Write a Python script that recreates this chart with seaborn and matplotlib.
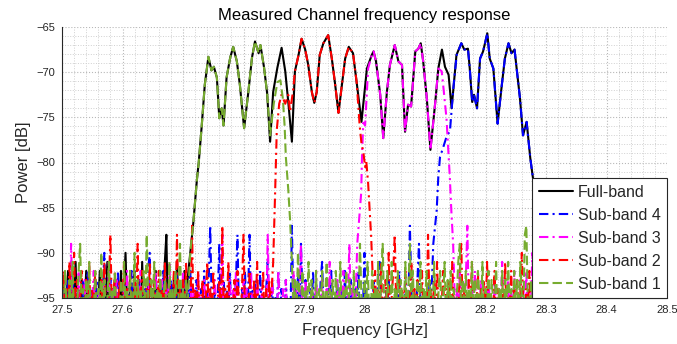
import numpy as np
import pandas as pd
import matplotlib
matplotlib.use("Agg")
import matplotlib.pyplot as plt
from matplotlib.ticker import MultipleLocator, FixedLocator
import seaborn as sns

# ---------------- data ----------------
NOISE_STEP = 0.0025  # GHz between visible noise samples
TAIL_STEP = 0.01     # GHz between samples hidden behind the legend (28.30-28.50)
TAIL_START = 28.30

# Full-band in-band trace
fb_freq = [27.712, 27.714, 27.717, 27.723, 27.726, 27.731, 27.736, 27.742, 27.747, 27.751,
           27.756, 27.760, 27.764, 27.767, 27.772, 27.778, 27.783, 27.789, 27.794, 27.801,
           27.808, 27.814, 27.819, 27.825, 27.828, 27.834, 27.839, 27.844, 27.849, 27.856,
           27.863, 27.869, 27.874, 27.880, 27.885, 27.891, 27.896, 27.902, 27.907, 27.913,
           27.917, 27.921, 27.926, 27.932, 27.940, 27.946, 27.951, 27.957, 27.962, 27.968,
           27.974, 27.981, 27.987, 27.995, 28.004, 28.012, 28.015, 28.019, 28.026, 28.031,
           28.037, 28.042, 28.050, 28.056, 28.062, 28.067, 28.072, 28.077, 28.084, 28.089,
           28.093, 28.097, 28.103, 28.109, 28.117, 28.122, 28.128, 28.133, 28.139, 28.144,
           28.147, 28.152, 28.160, 28.165, 28.171, 28.174, 28.178, 28.181, 28.186, 28.191,
           28.196, 28.203, 28.207, 28.213, 28.220, 28.227, 28.232, 28.238, 28.243, 28.248,
           28.252, 28.257, 28.262, 28.268, 28.274, 28.279, 28.284, 28.289]
fb_power = [-90.0, -88.6, -86.7, -81.9, -80.0, -75.9, -71.4, -68.3, -69.8, -69.4,
            -70.6, -75.1, -74.0, -75.9, -70.6, -68.4, -67.2, -68.8, -71.4, -76.2,
            -72.2, -68.4, -66.6, -67.9, -67.0, -69.5, -72.3, -77.7, -72.2, -69.5,
            -67.3, -69.9, -73.3, -77.7, -69.9, -68.1, -66.3, -67.5, -69.2, -72.2,
            -73.4, -72.2, -68.1, -66.8, -65.9, -68.5, -71.1, -74.5, -71.8, -68.5,
            -67.2, -67.9, -71.1, -75.5, -69.6, -68.1, -67.7, -68.8, -72.5, -77.3,
            -72.2, -69.2, -67.0, -68.8, -69.2, -76.6, -73.6, -73.8, -67.7, -67.4,
            -66.8, -68.8, -72.9, -78.6, -73.3, -69.6, -67.5, -69.4, -70.3, -74.0,
            -71.8, -68.1, -66.8, -67.5, -67.4, -69.6, -73.3, -72.5, -74.0, -68.5,
            -67.7, -65.7, -68.5, -69.6, -75.7, -71.4, -68.5, -66.8, -67.9, -67.5,
            -69.9, -72.9, -77.0, -75.5, -79.5, -82.0, -86.0, -90.0]

# Sub-band edges (where they leave the full-band trace)
sb1_right_freq = [27.844, 27.850, 27.856, 27.861, 27.865, 27.868, 27.870, 27.874, 27.877]
sb1_right_power = [-77.0, -73.5, -71.1, -70.9, -72.9, -76.0, -79.4, -83.0, -86.4]

sb2_left_freq = [27.849, 27.852, 27.855, 27.859, 27.863, 27.869, 27.874, 27.877, 27.882]
sb2_left_power = [-91.1, -84.0, -76.4, -73.5, -72.5, -73.5, -72.5, -74.4, -72.0]
sb2_right_freq = [27.992, 27.995, 27.998, 28.001, 28.003, 28.006, 28.011]
sb2_right_power = [-75.9, -77.9, -78.8, -80.5, -79.9, -82.3, -88.2]

sb3_left_freq = [27.988, 27.9945, 27.996, 27.998, 28.001, 28.006]
sb3_left_power = [-89.0, -83.4, -79.0, -75.6, -75.9, -69.6]
sb3_right_freq = [28.1276, 28.130, 28.1355, 28.138, 28.141, 28.1435, 28.1465]
sb3_right_power = [-69.9, -71.4, -75.1, -78.1, -81.6, -85.3, -89.0]

sb4_left_freq = [28.1137, 28.1193, 28.122, 28.1248, 28.1302, 28.1358, 28.1413, 28.1468, 28.1524]
sb4_left_power = [-89.0, -85.3, -81.6, -79.4, -78.3, -77.1, -76.5, -71.8, -68.1]

# Frequency range of the full-band trace that each sub-band shares
sb1_shared = (27.712, 27.839)
sb2_shared = (27.885, 27.987)
sb3_shared = (28.012, 28.122)
sb4_shared = (28.160, 28.289)

# ---- noise floor samples (dB) ----
fb_noise_start = 27.500
fb_noise = [-97, -93, -98, -95, -92, -97, -99, -94, -96, -91, -98, -95, -97, -93, -99, -96, -92, -98, -94, -97,
            -95, -99, -93, -97, -96, -92, -98, -94, -99, -95, -91, -97, -98, -94, -96, -93, -99, -95, -97, -92,
            -98, -94, -90, -96, -99, -93, -97, -95, -92, -98, -96, -94, -99, -91, -97, -95, -98, -93, -96, -99,
            -94, -97, -92, -98, -95, -93, -99, -96, -91, -88, -97, -94, -98, -95, -93, -99, -91, -96, -98, -94,
            -97, -92, -95, -93]
fb_tail = [-96, -93, -98, -94, -97, -92, -99, -95, -96, -93, -98, -94, -97, -91, -99, -95, -96, -93, -98, -94, -97]

sb4_noise_start = 27.500
sb4_noise = [-97, -94, -98, -95, -93, -99, -96, -92, -97, -95, -98, -94, -96, -99, -93, -97, -95, -92, -98, -96,
             -94, -99, -95, -93, -97, -96, -98, -94, -90, -97, -99, -95, -93, -98, -96, -94, -99, -92, -97, -95,
             -98, -93, -96, -99, -94, -97, -92, -98, -95, -96, -99, -93, -97, -95, -98, -94, -96, -92, -90, -97,
             -95, -98, -93, -96, -99, -94, -97, -92, -98, -95, -96, -99, -93, -97, -94, -98, -92, -96, -99, -95,
             -93, -97, -98, -94, -96, -92, -99, -95, -97, -93, -98, -96, -94, -99, -92, -97, -95, -93, -87, -96,
             -98, -94, -97, -95, -89, -98, -96, -93, -99, -94, -97, -92, -98, -95, -96, -93, -88, -97, -99, -94,
             -96, -92, -98, -95, -88, -97, -94, -99, -93, -96, -98, -92, -97, -95, -99, -94, -91, -98, -96, -93,
             -99, -95, -97, -92, -98, -94, -96, -99, -93, -97, -95, -98, -87, -96, -94, -99, -92, -97, -89, -95,
             -98, -93, -96, -99, -94, -97, -92, -98, -95, -96, -99, -93, -91, -97, -95, -98, -94, -96, -92, -99,
             -95, -97, -93, -98, -96, -94, -99, -92, -97, -95, -98, -93, -96, -99, -94, -97, -92, -98, -95, -96,
             -90, -98, -94, -97, -95, -99, -93, -96, -98, -92, -91, -97, -95, -99, -94, -96, -93, -98, -97, -95,
             -99, -94, -96, -92, -98, -95, -97, -93, -99, -96, -87, -94, -98, -95, -97, -93, -89, -96, -99, -94,
             -97, -95, -98, -93, -96]
sb4_tail = [-95, -98, -93, -97, -94, -99, -92, -96, -98, -93, -97, -95, -99, -92, -96, -94, -98, -93, -97, -95, -96]

sb3_noise_left_start = 27.500
sb3_noise_left = [-96, -98, -93, -97, -95, -99, -89, -96, -98, -94, -97, -92, -99, -95, -97, -93, -98, -96, -94, -99,
                  -95, -92, -97, -98, -94, -96, -99, -93, -97, -95, -98, -91, -96, -99, -94, -97, -93, -98, -95, -96,
                  -99, -94, -97, -92, -98, -95, -96, -99, -93, -97, -94, -98, -92, -96, -99, -95, -97, -93, -98, -94,
                  -96, -99, -92, -97, -95, -98, -93, -96, -99, -94, -97, -91, -98, -95, -96, -93, -99, -97, -94, -98,
                  -92, -96, -99, -95, -97, -93, -98, -94, -96, -99, -92, -97, -95, -98, -93, -96, -99, -94, -97, -95,
                  -98, -93, -96, -99, -94, -97, -88, -98, -95, -96, -99, -93, -97, -94, -98, -92, -96, -99, -95, -97,
                  -93, -98, -94, -96, -99, -92, -97, -95, -98, -93, -96, -99, -94, -97, -95, -98, -88, -96, -99, -93,
                  -97, -95, -98, -92, -96, -99, -94, -97, -93, -98, -95, -96, -99, -92, -97, -94, -98, -95, -89, -96,
                  -99, -93, -97, -95, -98, -94, -96, -99, -92, -97, -95, -98, -93, -96, -99, -94, -97, -91, -98, -95,
                  -96, -99, -93, -97, -94, -98, -92, -96, -99, -95, -89, -97, -94, -98, -96]
sb3_noise_right_start = 28.150
sb3_noise_right = [-97, -94, -98, -92, -96, -99, -95, -93, -87, -97, -99, -94, -96, -92, -98, -95, -97, -93, -99, -96,
                   -94, -98, -92, -97, -95, -99, -93, -96, -98, -94, -97, -91, -99, -95, -96, -93, -98, -94, -97, -92,
                   -99, -95, -96, -93, -98, -94, -97, -92, -99, -95, -96, -90, -98, -94, -97, -95]
sb3_tail = [-97, -94, -99, -92, -96, -98, -93, -97, -95, -99, -91, -96, -94, -98, -92, -97, -95, -99, -93, -96, -98]

sb2_noise_left_start = 27.500
sb2_noise_left = [-96, -92, -98, -94, -97, -91, -99, -95, -90, -97, -93, -98, -95, -92, -99, -96, -93, -97, -91, -98,
                  -94, -96, -92, -99, -95, -97, -93, -98, -91, -96, -99, -94, -88, -97, -95, -92, -98, -96, -93, -99,
                  -95, -91, -97, -94, -98, -92, -96, -99, -93, -97, -89, -98, -95, -92, -96, -99, -94, -97, -91, -98,
                  -95, -93, -99, -96, -92, -97, -94, -98, -91, -96, -99, -93, -97, -95, -92, -98, -88, -96, -94, -99,
                  -93, -97, -91, -98, -95, -96, -87, -99, -94, -97, -92, -98, -95, -93, -99, -96, -91, -97, -94, -98,
                  -92, -96, -99, -95, -93, -97, -87, -98, -94, -96, -91, -99, -95, -97, -93, -98, -92, -96, -99, -94,
                  -88, -97, -95, -98, -92, -96, -99, -93, -97, -91, -98, -95, -96, -92, -99, -94, -97, -93, -96]
sb2_noise_right_start = 28.015
sb2_noise_right = [-95, -92, -98, -94, -97, -91, -99, -96, -93, -97, -90, -98, -95, -92, -88, -96, -99, -93, -97, -94,
                   -98, -92, -96, -99, -95, -91, -97, -94, -98, -93, -96, -99, -92, -97, -95, -98, -88, -96, -94, -99,
                   -93, -97, -91, -98, -95, -96, -92, -99, -94, -97, -93, -98, -91, -96, -99, -95, -97, -92, -89, -98,
                   -94, -96, -99, -93, -97, -91, -98, -95, -96, -92, -99, -94, -97, -93, -98, -91, -96, -99, -95, -97,
                   -92, -98, -94, -96, -99, -93, -97, -91, -98, -95, -96, -92, -99, -94, -97, -93, -98, -95, -90, -96,
                   -99, -94, -97, -92, -98, -95, -96, -93, -99, -97]
sb2_tail = [-93, -97, -91, -98, -95, -96, -92, -99, -94, -97, -93, -98, -91, -96, -99, -94, -97, -92, -98, -95, -96]

sb1_noise_left_start = 27.500
sb1_noise_left = [-94, -98, -92, -96, -99, -93, -97, -91, -98, -95, -96, -92, -89, -97, -94, -99, -93, -96, -91, -98,
                  -95, -97, -92, -99, -94, -96, -90, -98, -93, -97, -95, -91, -99, -94, -96, -92, -98, -95, -97, -93,
                  -99, -91, -96, -94, -98, -92, -97, -95, -90, -99, -93, -96, -94, -98, -92, -97, -88, -95, -99, -93,
                  -96, -91, -98, -94, -97, -92, -99, -95, -93, -96, -98, -91, -97, -94, -99, -92, -96, -95, -89, -97,
                  -94, -98, -93, -96]
sb1_noise_right_start = 27.880
sb1_noise_right = [-91, -96, -93, -98, -90, -95, -97, -92, -99, -94, -96, -91, -98, -93, -95, -97, -92, -99, -94, -96,
                   -92, -97, -95, -91, -98, -94, -96, -93, -99, -92, -95, -97, -91, -98, -94, -96, -92, -99, -93, -95,
                   -97, -92, -98, -94, -96, -89, -95, -99, -93, -97, -91, -96, -98, -92, -95, -94, -99, -91, -97, -93,
                   -89, -96, -98, -92, -95, -97, -91, -99, -94, -96, -92, -98, -93, -95, -97, -91, -99, -94, -89, -96,
                   -92, -98, -95, -93, -97, -91, -99, -94, -96, -92, -98, -93, -95, -97, -91, -96, -99, -94, -92, -97,
                   -95, -91, -98, -93, -96, -92, -99, -94, -97, -95, -91, -89, -98, -93, -96, -92, -97, -94, -99, -91,
                   -96, -93, -98, -92, -95, -97, -91, -99, -94, -96, -92, -98, -93, -95, -97, -91, -99, -94, -96, -92,
                   -98, -93, -95, -91, -97, -94, -99, -92, -96, -93, -98, -91, -95, -97, -88, -87, -96, -99, -93, -95,
                   -91, -97, -94, -98]
sb1_tail = [-92, -98, -94, -96, -91, -99, -93, -97, -95, -92, -98, -94, -96, -91, -99, -93, -97, -95, -92, -98, -94]

labels = ["Full-band", "Sub-band 4", "Sub-band 3", "Sub-band 2", "Sub-band 1"]
x_ticks = [27.5, 27.6, 27.7, 27.8, 27.9, 28.0, 28.1, 28.2, 28.3, 28.4, 28.5]
x_tick_labels = ["27.5", "27.6", "27.7", "27.8", "27.9", "28", "28.1", "28.2", "28.3", "28.4", "28.5"]
y_ticks = [-95, -90, -85, -80, -75, -70, -65]


# ---------------- assemble series ----------------
def seg(start, vals, step=NOISE_STEP):
    f = start + step * np.arange(len(vals))
    return list(np.round(f, 5)), list(vals)


def tail(vals):
    return seg(TAIL_START, vals, TAIL_STEP)


def shared(rng):
    f = np.array(fb_freq)
    p = np.array(fb_power)
    m = (f >= rng[0] - 1e-9) & (f <= rng[1] + 1e-9)
    return list(f[m]), list(p[m])


def join(*segs):
    fs, ps = [], []
    for f, p in segs:
        fs += list(f)
        ps += list(p)
    return fs, ps


series = {
    "Full-band": join(seg(fb_noise_start, fb_noise), (fb_freq, fb_power), tail(fb_tail)),
    "Sub-band 4": join(seg(sb4_noise_start, sb4_noise), (sb4_left_freq, sb4_left_power),
                       shared(sb4_shared), tail(sb4_tail)),
    "Sub-band 3": join(seg(sb3_noise_left_start, sb3_noise_left), (sb3_left_freq, sb3_left_power),
                       shared(sb3_shared), (sb3_right_freq, sb3_right_power),
                       seg(sb3_noise_right_start, sb3_noise_right), tail(sb3_tail)),
    "Sub-band 2": join(seg(sb2_noise_left_start, sb2_noise_left), (sb2_left_freq, sb2_left_power),
                       shared(sb2_shared), (sb2_right_freq, sb2_right_power),
                       seg(sb2_noise_right_start, sb2_noise_right), tail(sb2_tail)),
    "Sub-band 1": join(seg(sb1_noise_left_start, sb1_noise_left), shared(sb1_shared),
                       (sb1_right_freq, sb1_right_power),
                       seg(sb1_noise_right_start, sb1_noise_right), tail(sb1_tail)),
}

rows = []
for name in labels:
    f, p = series[name]
    for fi, pi in zip(f, p):
        rows.append((name, fi, pi))
df = pd.DataFrame(rows, columns=["series", "freq", "power"])

# ---------------- styling ----------------
sns.set_style("white")
plt.rcParams["font.family"] = ["Liberation Sans", "DejaVu Sans"]

colors = {"Full-band": "black", "Sub-band 4": "#0000ff", "Sub-band 3": "#ff00ff",
          "Sub-band 2": "#ff0000", "Sub-band 1": "#77ac30"}
dashdot = (0, (4.5, 2, 1, 2))
styles = {"Full-band": "-", "Sub-band 4": dashdot, "Sub-band 3": dashdot,
          "Sub-band 2": dashdot, "Sub-band 1": (0, (4.5, 2))}

fig = plt.figure(figsize=(6.77, 3.44), dpi=100)
ax = fig.add_axes([62 / 677, 46 / 344, 605 / 677, 271 / 344])

for name in labels:
    sub = df[df["series"] == name].sort_values("freq")
    sns.lineplot(data=sub, x="freq", y="power", ax=ax, color=colors[name],
                 linestyle=styles[name], linewidth=1.5, estimator=None, sort=False,
                 label=name)

ax.set_xlim(27.5, 28.5)
ax.set_ylim(-95, -65)
ax.xaxis.set_major_locator(FixedLocator(x_ticks))
ax.set_xticklabels(x_tick_labels)
ax.yaxis.set_major_locator(FixedLocator(y_ticks))
ax.xaxis.set_minor_locator(MultipleLocator(0.02))
ax.yaxis.set_minor_locator(MultipleLocator(1))

ax.grid(which="major", linestyle=":", color="#b8b8b8", linewidth=0.8)
ax.grid(which="minor", linestyle=":", color="#d0d0d0", linewidth=0.7)
ax.set_axisbelow(True)

for s in ["top", "right"]:
    ax.spines[s].set_visible(False)
for s in ["left", "bottom"]:
    ax.spines[s].set_color("#262626")
    ax.spines[s].set_linewidth(0.8)

ax.tick_params(which="major", direction="in", length=3, width=0.8, colors="#262626",
               labelsize=8, pad=5)
ax.tick_params(which="minor", length=0)

ax.set_xlabel("Frequency [GHz]", fontsize=12, color="#262626", labelpad=6)
ax.set_ylabel("Power [dB]", fontsize=12, color="#262626", labelpad=4)
ax.set_title("Measured Channel frequency response", fontsize=12, color="black", pad=5)

leg = ax.legend(loc="lower right", bbox_to_anchor=(1.0, 0.0), borderaxespad=0.0,
                fontsize=11.5, frameon=True, fancybox=False, framealpha=1.0,
                edgecolor="#262626", handlelength=2.15, handletextpad=0.3,
                borderpad=0.4, labelspacing=0.5)
leg.get_frame().set_linewidth(0.8)

fig.savefig("out.png", dpi=100)
